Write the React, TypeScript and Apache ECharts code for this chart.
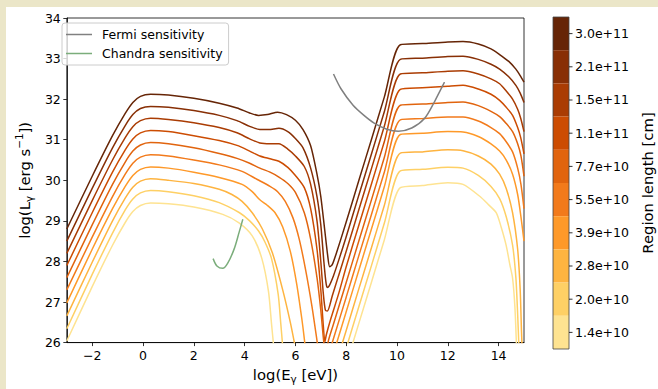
import React, { useEffect, useRef } from "react";
import * as echarts from "echarts";

// Region length labels (darkest curve first) and matching colours
const regionLabels = ["3.0e+11", "2.1e+11", "1.5e+11", "1.1e+11", "7.7e+10", "5.5e+10", "3.9e+10", "2.8e+10", "2.0e+10", "1.4e+10"];
const regionColors = ["#662506", "#882f05", "#aa3c03", "#cc4c02", "#e1640e", "#f27a1b", "#fe9929", "#feb440", "#fed065", "#fee391"];

const xTicks = [-2, 0, 2, 4, 6, 8, 10, 12, 14];

type P = [number, number] | null;

const curve0: P[] = [[-3, 28.8], [-2, 30.1], [-1.2, 31.1], [-0.7, 31.65], [-0.4, 31.92], [-0.1, 32.07], [0.3, 32.12], [1, 32.1], [2, 32.02], [3, 31.9], [3.7, 31.78], [4.2, 31.66], [4.55, 31.6], [4.9, 31.62], [5.3, 31.68], [5.65, 31.62], [6.0, 31.48], [6.3, 31.25], [6.6, 30.85], [6.85, 30.15], [7.0, 29.6], [7.15, 28.8], [7.27, 28.15], [7.35, 27.87], [7.45, 27.92], [7.6, 28.18], [8, 28.97], [8.5, 30.0], [9, 31.02], [9.5, 32.05], [10.13, 33.34], [11, 33.37], [12, 33.41], [12.6, 33.42], [13.2, 33.36], [13.7, 33.24], [14.04, 33.1], [14.4, 32.93], [14.68, 32.74], [14.85, 32.58], [15, 32.42]];
const curve1: P[] = [[-3, 28.5], [-2, 29.8], [-1.2, 30.8], [-0.7, 31.35], [-0.4, 31.62], [-0.1, 31.77], [0.3, 31.82], [1, 31.8], [2, 31.72], [3, 31.6], [3.7, 31.47], [4.2, 31.33], [4.6, 31.25], [4.95, 31.25], [5.35, 31.28], [5.7, 31.2], [6.0, 31.03], [6.3, 30.8], [6.6, 30.3], [6.85, 29.6], [7.0, 28.9], [7.12, 28.0], [7.2, 27.5], [7.25, 27.36], [7.33, 27.4], [7.5, 27.65], [7.7, 28.02], [8, 28.61], [8.5, 29.64], [9, 30.66], [9.5, 31.69], [10.13, 32.98], [11, 33.01], [12, 33.05], [12.6, 33.06], [13.2, 32.98], [13.7, 32.86], [14.04, 32.74], [14.4, 32.55], [14.68, 32.34], [14.85, 32.15], [15, 31.92]];
const curve2: P[] = [[-3, 28.2], [-2, 29.5], [-1.2, 30.5], [-0.7, 31.05], [-0.4, 31.32], [-0.1, 31.47], [0.3, 31.53], [1, 31.5], [2, 31.42], [3, 31.3], [3.7, 31.17], [4.2, 31.02], [4.6, 30.92], [5.0, 30.9], [5.35, 30.9], [5.7, 30.77], [6.0, 30.6], [6.35, 30.34], [6.6, 29.9], [6.85, 29.0], [7.0, 28.0], [7.1, 27.2], [7.18, 26.8], [7.26, 26.78], [7.45, 27.15], [7.7, 27.65], [8, 28.25], [8.5, 29.28], [9, 30.3], [9.5, 31.33], [10.13, 32.62], [11, 32.65], [12, 32.69], [12.6, 32.7], [13.2, 32.62], [13.7, 32.5], [14.04, 32.38], [14.3, 32.2], [14.55, 32.0], [14.75, 31.75], [14.87, 31.53], [15, 31.2]];
const curve3: P[] = [[-3, 27.9], [-2, 29.2], [-1.2, 30.2], [-0.7, 30.75], [-0.4, 31.02], [-0.1, 31.17], [0.3, 31.23], [1, 31.2], [2, 31.1], [3, 30.98], [3.7, 30.86], [4.2, 30.72], [4.6, 30.6], [5.0, 30.53], [5.35, 30.47], [5.7, 30.32], [6.0, 30.12], [6.35, 29.82], [6.6, 29.3], [6.85, 28.3], [7.0, 27.3], [7.1, 26.4], [7.16, 26.02], [7.22, 26.2], [7.4, 26.6], [7.7, 27.2], [8, 27.87], [8.5, 28.9], [9, 29.92], [9.5, 30.95], [10.13, 32.24], [11, 32.28], [12, 32.32], [12.6, 32.34], [13.2, 32.25], [13.7, 32.12], [14.04, 31.97], [14.3, 31.8], [14.55, 31.6], [14.75, 31.3], [14.87, 31.05], [15, 30.65]];
const curve4: P[] = [[-3, 27.6], [-2, 28.9], [-1.2, 29.9], [-0.7, 30.45], [-0.4, 30.72], [-0.1, 30.87], [0.3, 30.93], [1, 30.9], [2, 30.8], [3, 30.66], [3.7, 30.54], [4.2, 30.42], [4.6, 30.3], [5.0, 30.2], [5.35, 30.08], [5.7, 29.92], [6.0, 29.7], [6.35, 29.2], [6.6, 28.55], [6.85, 27.6], [7.0, 26.8], [7.12, 26.0], [7.2, 25.7], [7.3, 26.05], [7.5, 26.46], [8, 27.48], [8.5, 28.51], [9, 29.53], [9.5, 30.56], [10.13, 31.85], [11, 31.88], [12, 31.92], [12.6, 31.93], [13.2, 31.84], [13.7, 31.7], [14.04, 31.57], [14.3, 31.4], [14.55, 31.2], [14.75, 30.9], [14.88, 30.6], [15, 30.1]];
const curve5: P[] = [[-3, 27.3], [-2, 28.6], [-1.2, 29.6], [-0.7, 30.15], [-0.4, 30.42], [-0.1, 30.57], [0.3, 30.63], [1, 30.6], [2, 30.5], [3, 30.38], [3.9, 30.22], [4.5, 30.02], [5.0, 29.85], [5.3, 29.72], [5.6, 29.48], [5.9, 29.08], [6.15, 28.55], [6.4, 27.8], [6.65, 26.9], [6.85, 26.05], [6.95, 25.6], null, [7.2, 25.48], [7.5, 26.1], [8, 27.12], [8.5, 28.15], [9, 29.17], [9.5, 30.2], [10.13, 31.49], [11, 31.52], [12, 31.56], [12.6, 31.56], [13.2, 31.46], [13.7, 31.3], [14.04, 31.15], [14.3, 30.95], [14.55, 30.7], [14.75, 30.3], [14.88, 29.9], [15, 29.3]];
const curve6: P[] = [[-3, 26.98], [-2, 28.3], [-1.2, 29.3], [-0.7, 29.85], [-0.4, 30.12], [-0.1, 30.27], [0.3, 30.33], [1, 30.3], [2, 30.2], [3, 30.07], [3.9, 29.9], [4.3, 29.72], [4.6, 29.52], [4.9, 29.38], [5.2, 29.2], [5.5, 28.85], [5.8, 28.25], [6.05, 27.45], [6.25, 26.6], [6.35, 26.1], [6.42, 25.7], null, [7.55, 25.84], [8, 26.76], [8.5, 27.79], [9, 28.81], [9.5, 29.84], [10.13, 31.13], [11, 31.16], [12, 31.2], [12.6, 31.19], [13.2, 31.08], [13.7, 30.9], [14.04, 30.72], [14.3, 30.5], [14.55, 30.15], [14.75, 29.65], [14.88, 29.1], [15, 28.5]];
const curve7: P[] = [[-3, 26.66], [-2, 27.98], [-1.2, 29.0], [-0.7, 29.56], [-0.4, 29.83], [-0.1, 29.98], [0.3, 30.04], [1, 30.0], [2, 29.92], [3, 29.78], [3.5, 29.65], [3.9, 29.48], [4.3, 29.2], [4.7, 28.8], [5.1, 28.2], [5.5, 27.3], [5.8, 26.5], [5.96, 26.0], [6.05, 25.7], null, [7.75, 25.79], [8, 26.3], [8.5, 27.33], [9, 28.35], [9.5, 29.38], [10.13, 30.67], [11, 30.7], [12, 30.75], [12.6, 30.73], [13.2, 30.6], [13.7, 30.4], [14.04, 30.15], [14.3, 29.8], [14.55, 29.2], [14.75, 28.3], [14.85, 27.3], [14.9, 26.3], [14.93, 25.8]];
const curve8: P[] = [[-3, 26.34], [-2, 27.68], [-1.2, 28.7], [-0.7, 29.27], [-0.4, 29.54], [-0.1, 29.69], [0.3, 29.75], [1, 29.72], [2, 29.62], [3, 29.45], [3.8, 29.2], [4.2, 29.0], [4.55, 28.75], [4.8, 28.48], [5.06, 28.07], [5.32, 27.2], [5.42, 26.5], [5.5, 25.9], [5.53, 25.6], null, [7.95, 25.76], [8.5, 26.89], [9, 27.91], [9.5, 28.94], [10.13, 30.23], [11, 30.27], [12, 30.32], [12.6, 30.3], [13.2, 30.12], [13.7, 29.85], [14.04, 29.55], [14.3, 29.1], [14.55, 28.4], [14.68, 27.6], [14.75, 26.7], [14.8, 25.9], [14.82, 25.6]];
const curve9: P[] = [[-3, 26.04], [-2, 27.38], [-1.2, 28.4], [-0.7, 28.96], [-0.4, 29.23], [-0.1, 29.38], [0.3, 29.44], [1, 29.42], [2, 29.34], [3.14, 29.16], [3.78, 28.95], [4.3, 28.63], [4.68, 28.07], [4.94, 27.26], [5.06, 26.46], [5.13, 26.0], [5.16, 25.7], null, [8.15, 25.76], [8.5, 26.48], [9, 27.5], [9.5, 28.53], [10.13, 29.82], [11, 29.87], [12, 29.94], [12.6, 29.9], [13.27, 29.6], [13.6, 29.4], [13.91, 29.2], [14.1, 28.85], [14.3, 28.39], [14.45, 27.9], [14.55, 27.59], [14.64, 26.9], [14.7, 26.0], [14.72, 25.6]];

const curves = [curve0, curve1, curve2, curve3, curve4, curve5, curve6, curve7, curve8, curve9];

const fermi: [number, number][] = [[7.5, 32.62], [7.8, 32.25], [8.27, 31.85], [8.7, 31.6], [9.1, 31.41], [9.6, 31.26], [10.05, 31.21], [10.58, 31.29], [11.09, 31.53], [11.47, 31.93], [11.87, 32.42]];
const chandra: [number, number][] = [[2.76, 28.07], [2.91, 27.89], [3.14, 27.83], [3.33, 27.95], [3.59, 28.31], [3.78, 28.71], [3.93, 29.04]];

const FONT = "DejaVu Sans";

function split(pts: P[]) {
  const segs: [number, number][][] = [[]];
  for (const p of pts) {
    if (p === null) segs.push([]);
    else segs[segs.length - 1].push(p);
  }
  return segs;
}

export default function App() {
  const ref = useRef<HTMLDivElement>(null);
  useEffect(() => {
    const chart = echarts.init(ref.current!, null, { renderer: "svg" });
    const series: any[] = [];
    curves.forEach((c, k) => {
      split(c).forEach((seg, j) => {
        series.push({
          type: "line",
          name: "curve" + k + "_" + j,
          data: seg,
          showSymbol: false,
          smooth: 0.25,
          silent: true,
          clip: true,
          lineStyle: { color: regionColors[k], width: 1.5 },
        });
      });
    });
    series.push({
      type: "line",
      name: "Fermi sensitivity",
      data: fermi,
      showSymbol: false,
      smooth: 0.3,
      silent: true,
      color: "#808080",
      lineStyle: { color: "#808080", width: 1.5 },
    });
    series.push({
      type: "line",
      name: "Chandra sensitivity",
      data: chandra,
      showSymbol: false,
      smooth: 0.3,
      silent: true,
      color: "#7bad7b",
      lineStyle: { color: "#7bad7b", width: 1.5 },
    });

    const cbX = 547, cbY = 10, cbW = 16, cbH = 332;
    const n = regionLabels.length;
    // highest value is drawn on top, so the darkest (largest region) gets the highest value
    const pieces = regionLabels.map((lab, i) => ({ value: n - 1 - i, label: lab, color: regionColors[i] }));

    const graphic: any[] = [
      { type: "rect", shape: { x: cbX, y: cbY, width: cbW, height: cbH }, style: { fill: "none", stroke: "#444", lineWidth: 0.8 }, z: 100 },
      ...regionLabels.map((_, i) => ({
        type: "line",
        shape: { x1: cbX + cbW, y1: cbY + (cbH / n) * (i + 0.5), x2: cbX + cbW + 3.5, y2: cbY + (cbH / n) * (i + 0.5) },
        style: { stroke: "#000", lineWidth: 0.8 },
        z: 100,
      })),
      {
        type: "text",
        x: 641,
        y: 176,
        rotation: Math.PI / 2,
        style: { text: "Region length [cm]", fontSize: 14.8, fontFamily: FONT, fill: "#000", align: "center", verticalAlign: "middle", textAlign: "center", textVerticalAlign: "middle" },
      },
    ];

    chart.setOption({
      animation: false,
      grid: { left: 51, top: 11, width: 467, height: 331, show: true, borderColor: "#000", borderWidth: 0.8, backgroundColor: "transparent" },
      xAxis: {
        type: "value",
        min: -3,
        max: 15,
        name: "{n|log(E}{sub|γ}{n| [eV])}",
        nameLocation: "middle",
        nameGap: 20,
        nameTextStyle: {
          rich: {
            n: { fontSize: 14.8, fontFamily: FONT, color: "#000", lineHeight: 20, verticalAlign: "middle" },
            sub: { fontSize: 10.4, fontFamily: FONT, color: "#000", lineHeight: 10, verticalAlign: "bottom" },
          },
        },
        axisLine: { show: true, onZero: false, lineStyle: { color: "#000", width: 0.8 } },
        axisTick: { show: true, length: 3.5, customValues: xTicks, lineStyle: { color: "#000", width: 0.8 } },
        axisLabel: {
          customValues: xTicks,
          fontSize: 12.5,
          fontFamily: FONT,
          color: "#000",
          margin: 6,
          formatter: (v: number) => (v < 0 ? "\u2212" + Math.abs(v) : String(v)),
        },
        splitLine: { show: false },
      },
      yAxis: {
        type: "value",
        min: 26,
        max: 34,
        interval: 1,
        name: "{n|log(L}{sub|γ}{n| [erg s}{sup|\u22121}{n|])}",
        nameLocation: "middle",
        nameGap: 26,
        nameRotate: 90,
        nameTextStyle: {
          rich: {
            n: { fontSize: 14.8, fontFamily: FONT, color: "#000", lineHeight: 20, verticalAlign: "middle" },
            sub: { fontSize: 10.4, fontFamily: FONT, color: "#000", lineHeight: 10, verticalAlign: "bottom" },
            sup: { fontSize: 10.4, fontFamily: FONT, color: "#000", lineHeight: 10, verticalAlign: "top" },
          },
        },
        axisLine: { show: true, onZero: false, lineStyle: { color: "#000", width: 0.8 } },
        axisTick: { show: true, length: 3.5, lineStyle: { color: "#000", width: 0.8 } },
        axisLabel: { fontSize: 12.5, fontFamily: FONT, color: "#000", margin: 6 },
        splitLine: { show: false },
      },
      legend: {
        data: ["Fermi sensitivity", "Chandra sensitivity"],
        orient: "vertical",
        left: 56,
        top: 16,
        icon: "rect",
        itemWidth: 26,
        itemHeight: 1.5,
        itemGap: 4,
        padding: [4, 6, 4, 4],
        borderColor: "#ccc",
        borderWidth: 1,
        borderRadius: 3,
        backgroundColor: "rgba(255,255,255,0.8)",
        selectedMode: false,
        textStyle: { fontSize: 12.5, fontFamily: FONT, color: "#000", lineHeight: 15, padding: [0, 0, 0, 5] },
      },
      visualMap: {
        type: "piecewise",
        seriesIndex: [],
        pieces,
        left: cbX,
        top: cbY,
        padding: 0,
        itemWidth: cbW,
        itemHeight: cbH / n,
        itemGap: 0,
        itemSymbol: "rect",
        textGap: 6,
        align: "left",
        selectedMode: false,
        hoverLink: false,
        textStyle: { fontSize: 12.5, fontFamily: FONT, color: "#000" },
      },
      graphic,
      series,
    });
    return () => chart.dispose();
  }, []);
  return (
    <div style={{ position: "fixed", left: 0, top: 0, width: 658, height: 389, background: "#ebe6c8" }}>
      <div ref={ref} style={{ position: "absolute", left: 6, top: 7, width: 652, height: 382, background: "#fff" }} />
    </div>
  );
}
